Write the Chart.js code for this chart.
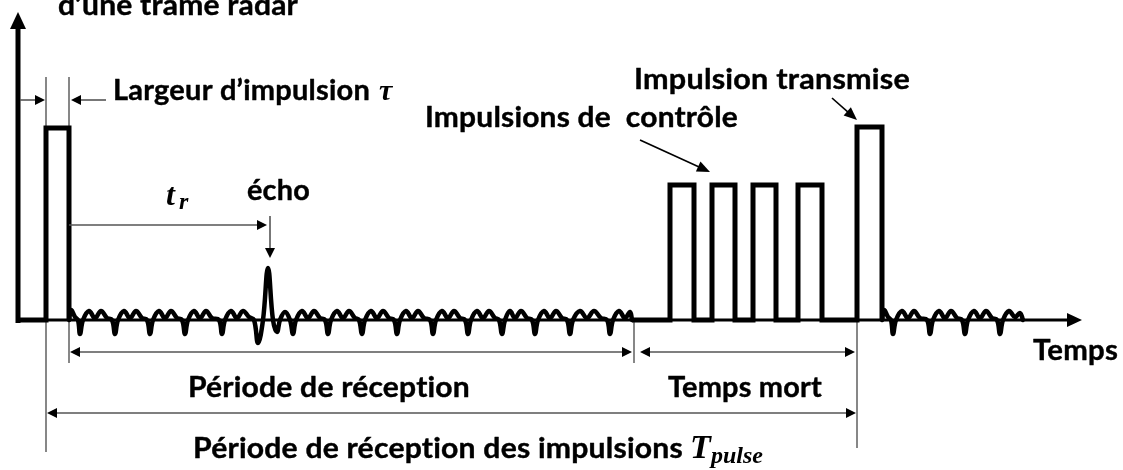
<!DOCTYPE html>
<html><head><meta charset="utf-8">
<script src="https://cdn.jsdelivr.net/npm/chart.js@4.4.1/dist/chart.umd.min.js"></script>
<style>html,body{margin:0;padding:0;background:#fff;overflow:hidden}#wrap{width:1123px;height:470px}</style>
</head><body><div id="wrap"><canvas id="c" width="1123" height="470"></canvas></div>
<script>
// ---- data (time units, amplitude units above the baseline) ----
const firstPulseT = [18, 46, 46, 69, 69];
const firstPulseA = [0, 0, 192, 192, 0];

const noise1T = [69,71,75,78,80,83,89,95,101,107,112,115,118,124,130,136,142,147,150,153,159,165,171,177,182,185,188,194,200,206,212,219,222,225,231,237,243,249,254,258,263,268,273,277,280,285,290,293,296,302,308,314,320,325,328,331,337,343,349,355,359,362,365,371,377,383,389,394,397,400,406,412,418,424,430,433,436,442,448,454,460,465,468,471,477,483,489,495,499,502,505,510,515,521,527,532,535,538,544,550,556,562,567,570,573,580,587,594,601,607,610,613,619,625,630,632];
const noise1A = [0,10,3,0,-14,0,9,2,9,2,0,-14,0,9,2,9,2,0,-14,0,9,2,9,2,0,-14,0,9,2,9,2,0,-14,0,9,2,9,3,0,-23,0,52,0,-12,0,8,0,-14,0,9,2,9,2,0,-14,0,9,2,9,2,0,-14,0,9,2,9,2,0,-14,0,9,2,9,2,0,-14,0,9,2,9,2,0,-14,0,9,2,9,2,0,-14,0,9,2,9,2,0,-14,0,9,2,9,2,0,-14,0,9,2,9,2,0,-14,0,9,2,8,0];

const controlT = [632,670,670,694,694,712,712,735,735,753,753,776,776,798,798,822,822,857,857,882,882];
const controlA = [0,0,135,135,0,0,135,135,0,0,135,135,0,0,135,135,0,0,193,193,0];

const noise2T = [882,884,888,891,893,896,902,908,914,920,927,930,933,939,945,951,957,962,965,968,974,980,986,992,997,1000,1003,1009,1015,1020,1023];
const noise2A = [0,10,3,0,-14,0,9,2,9,2,0,-14,0,9,2,9,2,0,-14,0,9,2,9,2,0,-14,0,9,3,7,0];

const zip = (t, a) => t.map((v, i) => ({x: v, y: a[i]}));

// ---- annotations (positions in data units) ----
const vLines = [
  {t:46, a1:243, a2:192}, {t:69, a1:243, a2:192},
  {t:46, a1:0, a2:-132}, {t:69, a1:0, a2:-43},
  {t:634, a1:0, a2:-43}, {t:857, a1:0, a2:-128}
];
const dimArrows = [
  {p:[20,220], q:[45,220]},
  {p:[106,220], q:[71,220]},
  {p:[69,95], q:[267,95]},
  {p:[270,104], q:[270,62]},
  {p:[70,-32], q:[632,-32], both:true},
  {p:[640,-32], q:[855,-32], both:true},
  {p:[47,-93], q:[856,-93], both:true}
];
const pointerArrows = [
  {p:[640,180], q:[710,148]},
  {p:[832,222], q:[857,200]}
];
const labels = [
  {text:'d\u2019une trame radar', t:58, a:305, w:240},
  {text:'Largeur d\u2019impulsion', t:113, a:220, w:257},
  {text:'\u00e9cho', t:247, a:120, w:63},
  {text:'Impulsions de  contr\u00f4le', t:425, a:193, w:313},
  {text:'Impulsion transmise', t:634, a:231, w:276},
  {text:'Temps', t:1033, a:-40, w:85},
  {text:'P\u00e9riode de r\u00e9ception', t:188, a:-77, w:282},
  {text:'Temps mort', t:668, a:-77, w:154},
  {text:'P\u00e9riode de r\u00e9ception des impulsions', t:193, a:-138, w:490}
];
const mathLabels = [
  {text:'\u03c4', t:379, a:220, font:'bold italic 30px "Liberation Serif"'},
  {text:'t', t:166, a:115, font:'bold italic 32px "Liberation Serif"'},
  {text:'r', t:179, a:111, font:'bold italic 24px "Liberation Serif"'},
  {text:'T', t:690, a:-138, font:'bold italic 34px "Liberation Serif"'},
  {text:'pulse', t:711, a:-143, font:'bold italic 24px "Liberation Serif"'}
];

function arrowHead(ctx, x1, y1, x2, y2, len, half) {
  const ang = Math.atan2(y2 - y1, x2 - x1);
  ctx.beginPath();
  ctx.moveTo(x2, y2);
  ctx.lineTo(x2 - len*Math.cos(ang) + half*Math.sin(ang), y2 - len*Math.sin(ang) - half*Math.cos(ang));
  ctx.lineTo(x2 - len*Math.cos(ang) - half*Math.sin(ang), y2 - len*Math.sin(ang) + half*Math.cos(ang));
  ctx.closePath();
  ctx.fill();
}
function arrow(ctx, x1, y1, x2, y2, o) {
  const len = o.len, half = o.half;
  const ang = Math.atan2(y2 - y1, x2 - x1);
  let sx = x1, sy = y1;
  if (o.both) { sx = x1 + (len-1)*Math.cos(ang); sy = y1 + (len-1)*Math.sin(ang); }
  const ex = x2 - (len-1)*Math.cos(ang), ey = y2 - (len-1)*Math.sin(ang);
  ctx.strokeStyle = o.color; ctx.lineWidth = o.width;
  ctx.beginPath(); ctx.moveTo(sx, sy); ctx.lineTo(ex, ey); ctx.stroke();
  ctx.fillStyle = '#000';
  arrowHead(ctx, x1, y1, x2, y2, len, half);
  if (o.both) arrowHead(ctx, x2, y2, x1, y1, len, half);
}

const diagram = {
  id: 'diagram',
  beforeDatasetsDraw(chart) {
    const ctx = chart.ctx, X = v => chart.scales.x.getPixelForValue(v), Y = v => chart.scales.y.getPixelForValue(v);
    ctx.save();
    ctx.strokeStyle = '#000'; ctx.lineWidth = 3;
    ctx.beginPath(); ctx.moveTo(X(18), Y(0)); ctx.lineTo(X(1070), Y(0)); ctx.stroke();
    ctx.fillStyle = '#000';
    arrowHead(ctx, X(18), Y(0), X(1082), Y(0), 15, 7);
    ctx.strokeStyle = '#7a7a7a'; ctx.lineWidth = 1.8;
    vLines.forEach(l => { ctx.beginPath(); ctx.moveTo(X(l.t), Y(l.a1)); ctx.lineTo(X(l.t), Y(l.a2)); ctx.stroke(); });
    ctx.restore();
  },
  afterDatasetsDraw(chart) {
    const ctx = chart.ctx, X = v => chart.scales.x.getPixelForValue(v), Y = v => chart.scales.y.getPixelForValue(v);
    ctx.save();
    ctx.strokeStyle = '#000'; ctx.lineWidth = 5;
    ctx.beginPath(); ctx.moveTo(X(18), Y(-3)); ctx.lineTo(X(18), Y(294)); ctx.stroke();
    ctx.fillStyle = '#000';
    arrowHead(ctx, X(18), Y(0), X(18), Y(308), 17, 8);
    dimArrows.forEach(d => arrow(ctx, X(d.p[0]), Y(d.p[1]), X(d.q[0]), Y(d.q[1]), {len:10, half:5, both:d.both, color:'#555', width:1.6}));
    pointerArrows.forEach(d => arrow(ctx, X(d.p[0]), Y(d.p[1]), X(d.q[0]), Y(d.q[1]), {len:13, half:5.5, color:'#000', width:1.6}));
    ctx.fillStyle = '#000'; ctx.strokeStyle = '#000'; ctx.lineWidth = 0.4; ctx.lineJoin = 'round';
    ctx.textBaseline = 'alphabetic'; ctx.textAlign = 'left';
    if ('letterSpacing' in ctx) ctx.letterSpacing = '0.2px';
    labels.forEach(l => {
      ctx.font = 'bold 28px Lato';
      const w0 = ctx.measureText(l.text).width;
      ctx.save();
      ctx.translate(X(l.t), Y(l.a));
      ctx.scale(l.w / w0, 1);
      ctx.fillText(l.text, 0, 0);
      ctx.strokeText(l.text, 0, 0);
      ctx.restore();
    });
    if ('letterSpacing' in ctx) ctx.letterSpacing = '0px';
    mathLabels.forEach(m => { ctx.font = m.font; ctx.fillText(m.text, X(m.t), Y(m.a)); });
    ctx.restore();
  }
};

const lineStyle = {showLine:true, borderColor:'#000', pointRadius:0, pointHoverRadius:0, fill:false};
new Chart(document.getElementById('c'), {
  type: 'scatter',
  data: {datasets: [
    Object.assign({data: zip(firstPulseT, firstPulseA), borderWidth:5, tension:0, borderJoinStyle:'miter'}, lineStyle),
    Object.assign({data: zip(noise1T, noise1A), borderWidth:4.5, tension:0.4, borderJoinStyle:'round', borderCapStyle:'round'}, lineStyle),
    Object.assign({data: zip(controlT, controlA), borderWidth:5, tension:0, borderJoinStyle:'miter'}, lineStyle),
    Object.assign({data: zip(noise2T, noise2A), borderWidth:4.5, tension:0.4, borderJoinStyle:'round', borderCapStyle:'round'}, lineStyle)
  ]},
  options: {
    responsive:false, animation:false, devicePixelRatio:1,
    layout:{padding:0},
    events: [],
    plugins:{legend:{display:false}, tooltip:{enabled:false}},
    scales:{
      x:{type:'linear', min:0, max:1123, display:false},
      y:{type:'linear', min:-150, max:320, display:false}
    }
  },
  plugins:[diagram]
});
</script>
</body></html>
